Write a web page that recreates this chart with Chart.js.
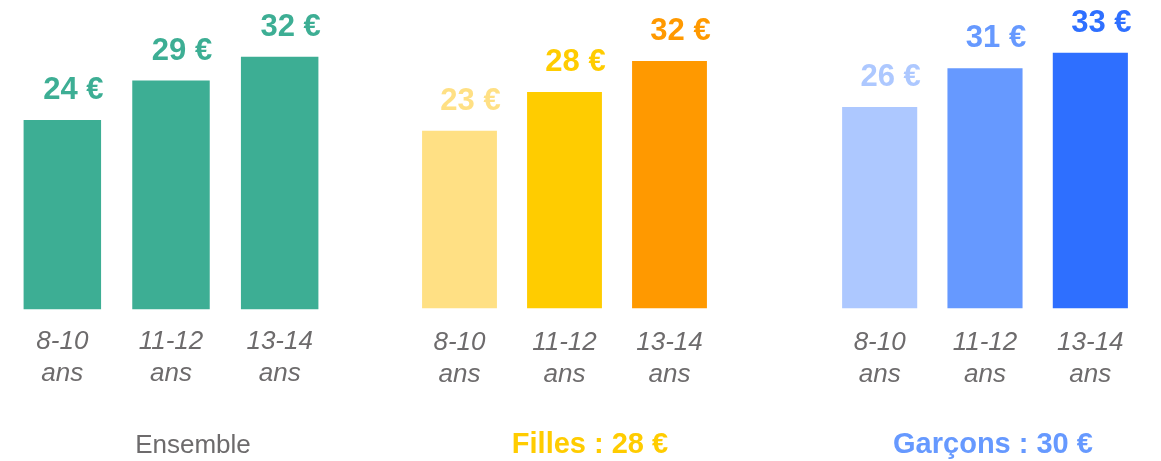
<!DOCTYPE html>
<html lang="fr">
<head>
    <meta charset="UTF-8">
    <title>Argent de poche par âge</title>
    <script src="https://cdn.jsdelivr.net/npm/chart.js"></script>
    <style>
        html, body {
            margin: 0;
            padding: 0;
            background: #ffffff;
        }
        .page {
            position: relative;
            width: 1161px;
            height: 461px;
            overflow: hidden;
        }
        .bloc {
            position: absolute;
            top: 0;
            height: 461px;
        }
    </style>
</head>
<body>
    <div class="page">
        <div class="bloc" id="bloc1" style="left: 8px; width: 326px;"><canvas id="chartEnsemble"></canvas></div>
        <div class="bloc" id="bloc2" style="left: 407px; width: 315px;"><canvas id="chartFilles"></canvas></div>
        <div class="bloc" id="bloc3" style="left: 827px; width: 316px;"><canvas id="chartGarcons"></canvas></div>
    </div>

    <script>
        // Données
        const categories = [['8-10', 'ans'], ['11-12', 'ans'], ['13-14', 'ans']];
        const ensembleValues = [24, 29, 32];
        const fillesValues = [23, 28, 32];
        const garconsValues = [26, 31, 33];
        const groupTitles = ['Ensemble', 'Filles : 28 €', 'Garçons : 30 €'];

        const police = "'Liberation Sans', Arial, sans-serif";
        const gris = '#6d6b6c';

        // Étiquettes de valeur au-dessus des barres + titre du groupe
        const etiquettesPlugin = {
            id: 'etiquettes',
            afterDraw(chart) {
                const ctx = chart.ctx;
                const opts = chart.options.plugins.etiquettes;
                const meta = chart.getDatasetMeta(0);
                const ds = chart.data.datasets[0];
                ctx.save();
                ctx.textAlign = 'center';
                ctx.textBaseline = 'alphabetic';
                ctx.font = 'bold 31px ' + police;
                meta.data.forEach((bar, i) => {
                    ctx.fillStyle = ds.backgroundColor[i];
                    ctx.fillText(ds.data[i] + ' €', bar.x + 11, bar.y - 21);
                });
                // titre sous l'axe
                ctx.font = (opts.titreGras ? 'bold 29px ' : '26px ') + police;
                ctx.fillStyle = opts.titreCouleur;
                ctx.fillText(opts.titre, opts.titreX, 453);
                ctx.restore();
            }
        };

        function creerGraphique(id, valeurs, couleurs, max, basBas, padTicks, titre, titreCouleur, titreGras, titreX) {
            const ctx = document.getElementById(id).getContext('2d');
            return new Chart(ctx, {
                type: 'bar',
                data: {
                    labels: categories,
                    datasets: [{
                        data: valeurs,
                        backgroundColor: couleurs,
                        borderWidth: 0,
                        categoryPercentage: 1,
                        barPercentage: 0.713
                    }]
                },
                options: {
                    responsive: true,
                    maintainAspectRatio: false,
                    animation: false,
                    layout: { padding: { top: 0, left: 0, right: 0, bottom: basBas } },
                    plugins: {
                        legend: { display: false },
                        tooltip: { enabled: false },
                        etiquettes: { titre: titre, titreCouleur: titreCouleur, titreGras: titreGras, titreX: titreX }
                    },
                    scales: {
                        x: {
                            grid: { display: false, drawTicks: false },
                            border: { display: false },
                            ticks: {
                                color: gris,
                                padding: padTicks,
                                maxRotation: 0,
                                font: { family: police, size: 26, style: 'italic', lineHeight: 1.2 }
                            }
                        },
                        y: {
                            display: false,
                            min: 0,
                            max: max
                        }
                    }
                },
                plugins: [etiquettesPlugin]
            });
        }

        creerGraphique('chartEnsemble', ensembleValues, ['#3dae94', '#3dae94', '#3dae94'],
            39.2, 55, 17, groupTitles[0], gris, false, 185);
        creerGraphique('chartFilles', fillesValues, ['#ffe084', '#ffcc00', '#ff9900'],
            39.9, 52, 19, groupTitles[1], '#ffcc00', true, 183);
        creerGraphique('chartGarcons', garconsValues, ['#adc8ff', '#6699ff', '#2e6fff'],
            39.8, 52, 19, groupTitles[2], '#6699ff', true, 166);
    </script>
</body>
</html>
